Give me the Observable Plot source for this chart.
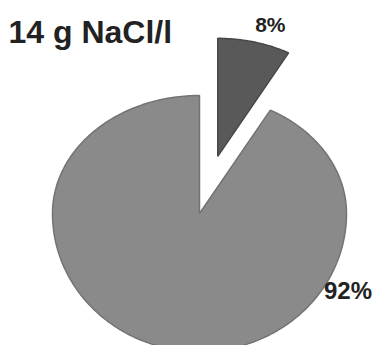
<!DOCTYPE html>
<html>
<head>
<meta charset="utf-8">
<script src="https://cdn.jsdelivr.net/npm/d3@7"></script>
<script src="https://cdn.jsdelivr.net/npm/@observablehq/plot@0.6"></script>
<style>
  html, body { margin: 0; padding: 0; background: #fff; }
  #chart svg { display: block; }
</style>
</head>
<body>
<div id="chart"></div>
<script>
// ---- data ----
const title = "14 g NaCl/l";
const sliceNames = ["A", "B"];
const sliceValues = [8, 92];
const sliceLabels = ["8%", "92%"];
const sliceExplode = [0.5, 0];
const sliceColors = ["#595959", "#8a8a8a"];
const sliceStrokes = ["#474747", "#737373"];

// tilted view: the near (lower) half appears a bit larger
const tilt = v => v < 0 ? v * 1.17 : v;

// ---- build slice polygons from the data ----
const pie = d3.pie().sort(null).value(d => d)(sliceValues);
const deg = Math.PI / 180;
const slices = pie.map((p, i) => {
  const mid = (p.startAngle + p.endAngle) / 2;
  const ox = Math.sin(mid) * sliceExplode[i];
  const oy = Math.cos(mid) * sliceExplode[i];
  const pts = [{x: ox, y: tilt(oy)}];
  const n = Math.max(2, Math.ceil((p.endAngle - p.startAngle) / deg));
  for (let k = 0; k <= n; k++) {
    const a = p.startAngle + (p.endAngle - p.startAngle) * k / n;
    pts.push({x: ox + Math.sin(a), y: tilt(oy + Math.cos(a))});
  }
  return {i, p, mid, ox, oy, pts};
});

// label anchors derived from slice geometry
const s0 = slices[0];
const lab0 = [{x: s0.ox + Math.sin(s0.mid), y: tilt(s0.oy + Math.cos(s0.mid)), t: sliceLabels[0]}];
const s1 = slices[1];
const a1 = s1.p.startAngle + 0.275 * (s1.p.endAngle - s1.p.startAngle);
const lab1 = [{x: Math.sin(a1), y: tilt(Math.cos(a1)), t: sliceLabels[1]}];

const font = "'Liberation Sans', Arial, sans-serif";

const chart = Plot.plot({
  width: 376,
  height: 345,
  margin: 0,
  x: {type: "linear", domain: [-1, 1], range: [52, 346], axis: null},
  y: {type: "linear", domain: [-1, 1], range: [331, 95], axis: null},
  style: {background: "#fff", fontFamily: font},
  marks: [
    ...slices.map(s => Plot.line(s.pts, {
      x: "x", y: "y",
      curve: "linear-closed",
      fill: sliceColors[s.i],
      stroke: sliceStrokes[s.i],
      strokeWidth: 1.5,
      strokeLinejoin: "miter"
    })),
    Plot.text(lab0, {x: "x", y: "y", text: "t", dx: 16, dy: -17, fontSize: 21, fontWeight: "bold", fill: "#222", lineAnchor: "middle"}),
    Plot.text(lab1, {x: "x", y: "y", text: "t", dx: 21, dy: 9, fontSize: 24, fontWeight: "bold", fill: "#222", lineAnchor: "middle"}),
    Plot.text([title], {frameAnchor: "top-left", text: d => d, textAnchor: "start", dx: 8, dy: 20, fontSize: 32, fontWeight: "bold", fill: "#222"})
  ]
});
document.getElementById("chart").appendChild(chart);
</script>
</body>
</html>
